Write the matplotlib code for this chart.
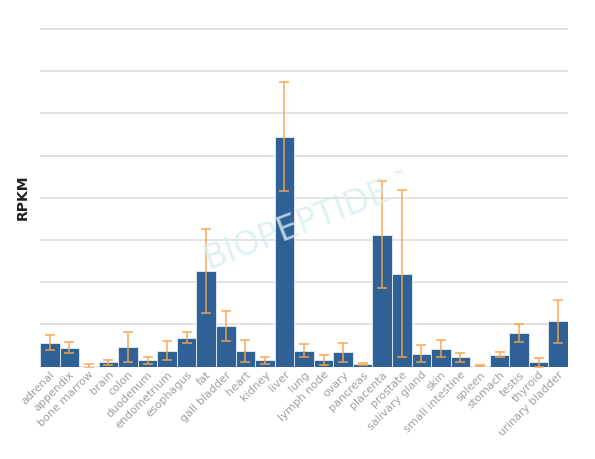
# -*- coding: utf-8 -*-
import numpy as np
import matplotlib
matplotlib.use("Agg")
import matplotlib.pyplot as plt

# Datos (RPKM en unidades de la cuadrícula)
tejidos = ["adrenal", "appendix", "bone marrow", "brain", "colon", "duodenum",
           "endometrium", "esophagus", "fat", "gall bladder", "heart", "kidney",
           "liver", "lung", "lymph node", "ovary", "pancreas", "placenta",
           "prostate", "salivary gland", "skin", "small intestine", "spleen",
           "stomach", "testis", "thyroid", "urinary bladder"]
rpkm = [0.57, 0.45, 0.02, 0.10, 0.47, 0.15, 0.38, 0.69, 2.27, 0.96, 0.38, 0.15,
        5.45, 0.38, 0.15, 0.34, 0.06, 3.13, 2.20, 0.31, 0.43, 0.22, 0.02,
        0.28, 0.79, 0.10, 1.08]
desv = [0.18, 0.13, 0.04, 0.07, 0.35, 0.09, 0.22, 0.12, 0.99, 0.36, 0.26, 0.08,
        1.28, 0.15, 0.12, 0.23, 0.03, 1.27, 1.98, 0.20, 0.21, 0.10, 0.01,
        0.06, 0.21, 0.10, 0.51]

fig = plt.figure(figsize=(5.95, 4.59), dpi=100)
ax = fig.add_axes([0.0672, 0.2011, 0.8874, 0.7379])

x = np.arange(len(tejidos))
ax.bar(x, rpkm, width=1.0, color="#2f6096", edgecolor="#e8eef5", linewidth=0.6, zorder=2)
ax.errorbar(x, rpkm, yerr=desv, fmt="none", ecolor="#f7a449", elinewidth=1.2,
            capsize=3.5, capthick=1.2, alpha=0.85, zorder=3)

ax.set_xlim(-0.5, len(tejidos) - 0.5)
ax.set_ylim(0, 8.02)
ax.set_yticks(np.arange(0, 9, 1))
ax.set_yticklabels([])
ax.tick_params(axis="y", length=0)
ax.tick_params(axis="x", length=0, pad=2)
ax.grid(axis="y", color="#dedede", linewidth=1.2, zorder=0)
for lado in ["top", "right", "left", "bottom"]:
    ax.spines[lado].set_visible(False)

ax.set_xticks(x)
ax.set_xticklabels(tejidos, rotation=45, ha="right", rotation_mode="anchor",
                   fontsize=8, color="#a0a0a0")
ax.set_ylabel("RPKM", fontsize=10, fontweight="bold", color="#222222", labelpad=4)

# Marca de agua
fig.text(0.50, 0.51, "BIOPEPTIDE", fontsize=24, color="#d9eef0", alpha=0.8,
         rotation=21, ha="center", va="center", zorder=1)
fig.text(0.66, 0.615, "TM", fontsize=5, color="#cfe2ec", rotation=21, zorder=1)

fig.savefig("out.png", dpi=100)
